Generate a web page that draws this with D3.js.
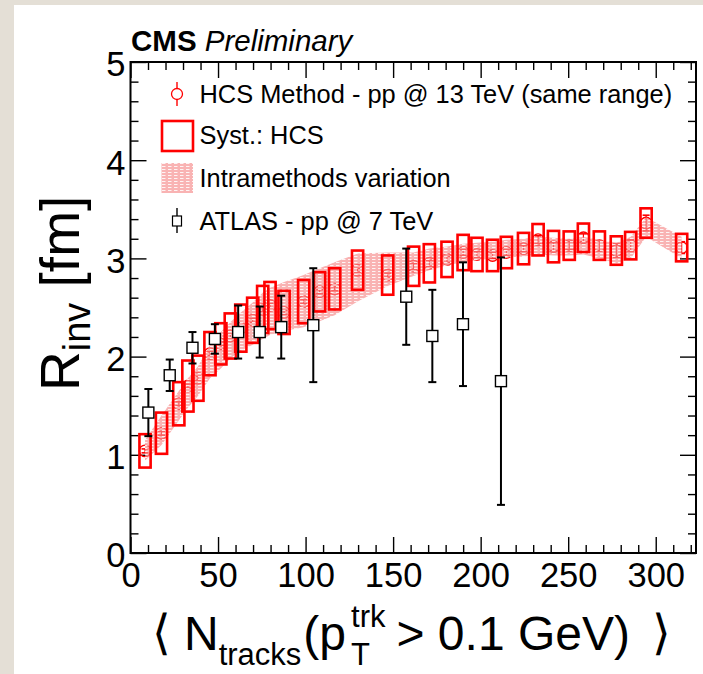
<!DOCTYPE html>
<html>
<head>
<meta charset="utf-8">
<script src="https://cdn.jsdelivr.net/npm/d3@7"></script>
<style>
  html, body { margin: 0; padding: 0; background: #e4dfd6; }
  svg { display: block; }
  text { font-family: "Liberation Sans", Arial, Helvetica, sans-serif; }
</style>
</head>
<body>
<svg id="chart" width="703" height="674"></svg>
<script>
// HCS method, pp @ 13 TeV: mean track multiplicity, R_inv, stat and syst errors
const hcsN = [8.3, 17.7, 27.6, 32.8, 38.5, 45.4, 51.6, 57.0, 63.0, 69.8, 75.5, 79.7, 87.7, 98.9,
  108.0, 116.6, 129.7, 146.9, 161.7, 170.7, 180.8, 190.0, 197.9, 206.8, 214.7, 224.5, 232.8,
  241.6, 250.6, 258.7, 267.8, 277.5, 285.7, 294.5, 314.8];
const hcsR = [1.04, 1.22, 1.52, 1.70, 1.78, 2.03, 2.13, 2.21, 2.29, 2.37, 2.48, 2.52, 2.45, 2.56,
  2.66, 2.69, 2.88, 2.83, 2.92, 2.95, 2.99, 3.06, 3.04, 3.03, 3.06, 3.10, 3.19,
  3.12, 3.13, 3.21, 3.13, 3.08, 3.13, 3.36, 3.11];
const hcsStat = [0.02, 0.02, 0.02, 0.02, 0.02, 0.02, 0.02, 0.02, 0.02, 0.02, 0.02, 0.02, 0.02, 0.02,
  0.02, 0.02, 0.02, 0.02, 0.03, 0.03, 0.03, 0.03, 0.03, 0.03, 0.03, 0.03, 0.04,
  0.04, 0.04, 0.04, 0.05, 0.07, 0.06, 0.08, 0.06];
const hcsSyst = [0.17, 0.21, 0.22, 0.26, 0.23, 0.22, 0.21, 0.23, 0.24, 0.23, 0.24, 0.24, 0.22, 0.22,
  0.20, 0.21, 0.20, 0.20, 0.20, 0.195, 0.18, 0.18, 0.17, 0.16, 0.16, 0.16, 0.16,
  0.16, 0.145, 0.145, 0.145, 0.145, 0.14, 0.15, 0.14];

// Spread between the different methods (lower / upper edge of the band)
const bandLo = [0.94, 1.10, 1.35, 1.48, 1.60, 1.78, 1.88, 1.98, 2.06, 2.12, 2.18, 2.22, 2.26, 2.30,
  2.36, 2.42, 2.56, 2.72, 2.82, 2.88, 2.93, 2.96, 2.98, 3.00, 3.01, 3.02, 3.04,
  3.03, 3.03, 3.04, 3.00, 2.95, 3.00, 3.22, 3.00];
const bandHi = [1.15, 1.40, 1.65, 1.78, 1.90, 2.12, 2.25, 2.35, 2.45, 2.55, 2.65, 2.70, 2.76, 2.83,
  2.90, 2.96, 3.05, 3.06, 3.06, 3.10, 3.12, 3.15, 3.16, 3.17, 3.19, 3.20, 3.22,
  3.21, 3.20, 3.22, 3.19, 3.16, 3.22, 3.42, 3.22];

// ATLAS, pp @ 7 TeV
const atlasN = [10.2, 22.4, 35.4, 48.2, 61.5, 73.8, 86.1, 104.4, 157.5, 172.4, 189.9, 211.6];
const atlasR = [1.43, 1.81, 2.09, 2.18, 2.25, 2.25, 2.30, 2.32, 2.61, 2.21, 2.33, 1.75];
const atlasErr = [0.24, 0.16, 0.16, 0.15, 0.27, 0.26, 0.32, 0.58, 0.49, 0.47, 0.63, 1.26];

// Axis ticks
const xMajorTicks = [0, 50, 100, 150, 200, 250, 300];
const yMajorTicks = [0, 1, 2, 3, 4, 5];

const legendLabels = [
  "HCS Method - pp @ 13 TeV (same range)",
  "Syst.: HCS",
  "Intramethods variation",
  "ATLAS - pp @ 7 TeV"
];

const W = 703, H = 674;
const RED = "#ff0000";
const svg = d3.select("#chart");

// canvas
svg.append("rect").attr("width", W).attr("height", H).attr("fill", "#e4dfd6");
svg.append("rect").attr("x", 14).attr("y", 5).attr("width", W - 14).attr("height", H - 5).attr("fill", "#ffffff");

// hatched pink fill for the band
const defs = svg.append("defs");
const pat = defs.append("pattern").attr("id", "bandFill").attr("patternUnits", "userSpaceOnUse")
  .attr("width", 6).attr("height", 3);
pat.append("rect").attr("width", 6).attr("height", 3).attr("fill", "#f58f8f").attr("fill-opacity", 0.68);
pat.append("rect").attr("x", 0).attr("y", 1).attr("width", 3.5).attr("height", 1).attr("fill", "#ffffff").attr("fill-opacity", 0.85);

const frame = { l: 130.5, r: 696, t: 62, b: 553 };
const x = d3.scaleLinear().domain([0, 323]).range([frame.l, frame.r]);
const y = d3.scaleLinear().domain([0, 5]).range([frame.b, frame.t]);

const xMinor = d3.range(0, 323, 10).filter(v => v % 50 !== 0);
const yMinor = d3.range(0, 5.0001, 0.2).map(v => +v.toFixed(1)).filter(v => Math.abs(v - Math.round(v)) > 1e-6);

function styleAxis(g) {
  g.select(".domain").remove();
  g.selectAll(".tick line").attr("stroke", "#000").attr("stroke-width", 1.4);
}

// major ticks with labels
svg.append("g").attr("transform", `translate(0,${frame.b})`)
  .call(d3.axisBottom(x).tickValues(xMajorTicks).tickSize(-16).tickPadding(10).tickFormat(d3.format("d")))
  .call(styleAxis)
  .selectAll("text").attr("font-size", 34.5).attr("fill", "#000").attr("font-family", "Liberation Sans, Arial, sans-serif");
svg.append("g").attr("transform", `translate(${frame.l},0)`)
  .call(d3.axisLeft(y).tickValues(yMajorTicks).tickSize(-16).tickPadding(5).tickFormat(d3.format("d")))
  .call(styleAxis)
  .selectAll("text").attr("font-size", 34.5).attr("fill", "#000").attr("dy", "0.4em").attr("font-family", "Liberation Sans, Arial, sans-serif");

// minor ticks and mirrored ticks on top / right
svg.append("g").attr("transform", `translate(0,${frame.b})`)
  .call(d3.axisBottom(x).tickValues(xMinor).tickSize(-8).tickFormat("")).call(styleAxis);
svg.append("g").attr("transform", `translate(${frame.l},0)`)
  .call(d3.axisLeft(y).tickValues(yMinor).tickSize(-8).tickFormat("")).call(styleAxis);
svg.append("g").attr("transform", `translate(0,${frame.t})`)
  .call(d3.axisTop(x).tickValues(xMajorTicks).tickSize(-16).tickFormat("")).call(styleAxis);
svg.append("g").attr("transform", `translate(0,${frame.t})`)
  .call(d3.axisTop(x).tickValues(xMinor).tickSize(-8).tickFormat("")).call(styleAxis);
svg.append("g").attr("transform", `translate(${frame.r},0)`)
  .call(d3.axisRight(y).tickValues(yMajorTicks).tickSize(-16).tickFormat("")).call(styleAxis);
svg.append("g").attr("transform", `translate(${frame.r},0)`)
  .call(d3.axisRight(y).tickValues(yMinor).tickSize(-8).tickFormat("")).call(styleAxis);

// plot contents
const hcs = hcsN.map((n, i) => ({ n, r: hcsR[i], st: hcsStat[i], sy: hcsSyst[i], lo: bandLo[i], hi: bandHi[i] }));
const atlas = atlasN.map((n, i) => ({ n, r: atlasR[i], e: atlasErr[i] }));
const plot = svg.append("g");

// HCS statistical errors and markers
const hcsPts = plot.append("g");
hcsPts.selectAll("line.stat").data(hcs).join("line")
  .attr("x1", d => x(d.n)).attr("x2", d => x(d.n))
  .attr("y1", d => y(d.r - d.st)).attr("y2", d => y(d.r + d.st))
  .attr("stroke", RED).attr("stroke-width", 1.2);
hcsPts.selectAll("g.cap").data(hcs).join("g").each(function (d) {
  const g = d3.select(this);
  [d.r - d.st, d.r + d.st].forEach(v => g.append("line")
    .attr("x1", x(d.n) - 3.5).attr("x2", x(d.n) + 3.5).attr("y1", y(v)).attr("y2", y(v))
    .attr("stroke", RED).attr("stroke-width", 1.6));
});
hcsPts.selectAll("circle").data(hcs).join("circle")
  .attr("cx", d => x(d.n)).attr("cy", d => y(d.r)).attr("r", 5.8)
  .attr("fill", "none").attr("stroke", RED).attr("stroke-width", 1.3);

// intramethod band
const area = d3.area().x(d => x(d.n)).y0(d => y(d.lo)).y1(d => y(d.hi));
plot.append("path").datum(hcs).attr("d", area).attr("fill", "url(#bandFill)");

// systematic boxes
const boxHalf = 5.6;
plot.append("g").selectAll("rect").data(hcs).join("rect")
  .attr("x", d => x(d.n) - boxHalf).attr("width", 2 * boxHalf)
  .attr("y", d => y(d.r + d.sy)).attr("height", d => y(d.r - d.sy) - y(d.r + d.sy))
  .attr("fill", "none").attr("stroke", RED).attr("stroke-width", 2.6);

// ATLAS points
const ag = plot.append("g");
ag.selectAll("line.err").data(atlas).join("line")
  .attr("x1", d => x(d.n)).attr("x2", d => x(d.n))
  .attr("y1", d => y(d.r - d.e)).attr("y2", d => y(d.r + d.e))
  .attr("stroke", "#000").attr("stroke-width", 2);
ag.selectAll("g.cap").data(atlas).join("g").each(function (d) {
  const g = d3.select(this);
  [d.r - d.e, d.r + d.e].forEach(v => g.append("line")
    .attr("x1", x(d.n) - 4).attr("x2", x(d.n) + 4).attr("y1", y(v)).attr("y2", y(v))
    .attr("stroke", "#000").attr("stroke-width", 2));
});
ag.selectAll("rect").data(atlas).join("rect")
  .attr("x", d => x(d.n) - 5.5).attr("y", d => y(d.r) - 5.5).attr("width", 11).attr("height", 11)
  .attr("fill", "#fff").attr("stroke", "#000").attr("stroke-width", 1.4);

// frame
svg.append("rect").attr("x", frame.l).attr("y", frame.t)
  .attr("width", frame.r - frame.l).attr("height", frame.b - frame.t)
  .attr("fill", "none").attr("stroke", "#000").attr("stroke-width", 2);

// legend
const leg = svg.append("g");
const legX = 177, legTextX = 199.5, legFont = 25.4;
const legBase = [102.5, 144, 186.5, 229.5];
legendLabels.forEach((t, i) => {
  leg.append("text").attr("x", legTextX).attr("y", legBase[i]).attr("font-size", legFont).attr("fill", "#000").text(t);
});
// entry 1: marker with stat error
leg.append("line").attr("x1", legX).attr("x2", legX).attr("y1", 82).attr("y2", 106).attr("stroke", RED).attr("stroke-width", 1.4);
leg.append("circle").attr("cx", legX).attr("cy", 94).attr("r", 5.5).attr("fill", "#fff").attr("stroke", RED).attr("stroke-width", 1.3);
// entry 2: systematic box
leg.append("rect").attr("x", 162).attr("y", 121).attr("width", 31).attr("height", 30)
  .attr("fill", "none").attr("stroke", RED).attr("stroke-width", 2.6);
// entry 3: band swatch
leg.append("rect").attr("x", 161.5).attr("y", 163).attr("width", 31.5).attr("height", 30).attr("fill", "url(#bandFill)");
// entry 4: ATLAS marker
leg.append("line").attr("x1", legX).attr("x2", legX).attr("y1", 208).attr("y2", 233).attr("stroke", "#000").attr("stroke-width", 1.4);
leg.append("rect").attr("x", legX - 4.5).attr("y", 216).attr("width", 9).attr("height", 10)
  .attr("fill", "#fff").attr("stroke", "#000").attr("stroke-width", 1.2);

// CMS label
const cms = svg.append("text").attr("x", 131).attr("y", 50.5).attr("font-size", 29.5).attr("fill", "#000");
cms.append("tspan").attr("font-weight", "bold").text("CMS");
cms.append("tspan").attr("font-style", "italic").text(" Preliminary");

// y-axis title
const yt = svg.append("text").attr("transform", "translate(79,391) rotate(-90)")
  .attr("font-size", 55).attr("fill", "#000");
yt.append("tspan").text("R");
yt.append("tspan").attr("font-size", 38).attr("dy", 11).text("inv");
yt.append("tspan").attr("dy", -11).text(" [fm]");

// x-axis title, laid out piece by piece
const xt = svg.append("g");
let cx = 152;
const base = 650, big = 48, small = 31;
function piece(txt, size, dy, family) {
  const t = xt.append("text").attr("x", cx).attr("y", base + dy).attr("font-size", size).attr("fill", "#000").text(txt);
  if (family) t.attr("font-family", family);
  return t;
}
let t = piece("\u27E8", big, -1, "DejaVu Sans"); cx += t.node().getComputedTextLength() + 13;
t = piece("N", big, 0); cx += t.node().getComputedTextLength();
t = piece("tracks", small, 15); cx += t.node().getComputedTextLength() + 2;
t = piece("(p", big, 0); cx += t.node().getComputedTextLength() + 5;
const supT = piece("trk", small, -23);
const subT = piece("T", small, 15);
cx += Math.max(supT.node().getComputedTextLength(), subT.node().getComputedTextLength()) + 11;
t = piece("> 0.1 GeV)", big, 0); cx += t.node().getComputedTextLength() + 22;
piece("\u27E9", big, -1, "DejaVu Sans");
</script>
</body>
</html>
